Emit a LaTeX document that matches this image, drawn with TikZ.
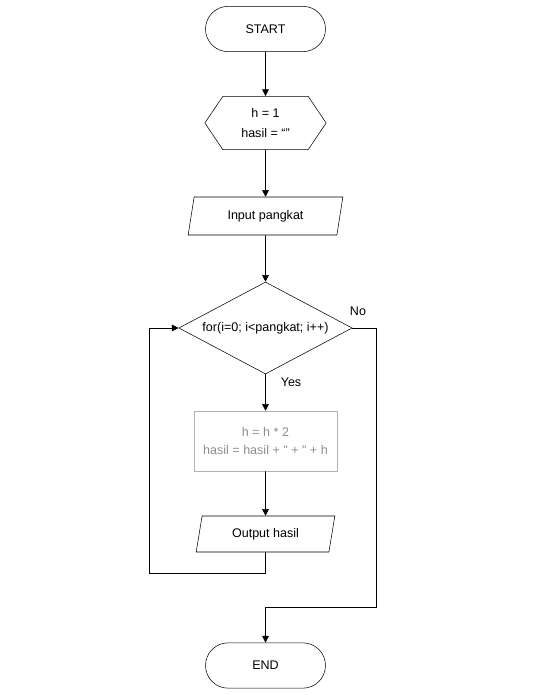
\documentclass[tikz,border=0pt]{standalone}
\usepackage{fontspec}
\setmainfont{Liberation Sans}
\usetikzlibrary{shapes.geometric, shapes.misc, shapes.symbols, arrows.meta}

\tikzset{
  term/.style={rounded rectangle, draw, minimum width=90pt, minimum height=34pt, inner sep=0pt},
  prep/.style={signal, signal to=west and east, signal pointer angle=112, draw, minimum width=91pt, minimum height=40pt, inner sep=0pt, align=center, font=\fontsize{9.4}{14.5}\selectfont},
  io/.style={trapezium, trapezium left angle=63, trapezium right angle=117, trapezium stretches body, draw, inner sep=0pt},
  decide/.style={diamond, aspect=1.88, draw, minimum width=130pt, minimum height=69pt, inner sep=0pt},
  proc/.style={rectangle, draw=black!30, text=black!45, minimum width=107pt, minimum height=45pt, align=center, font=\fontsize{9.4}{13}\selectfont},
  flow/.style={-{Triangle[length=5pt,width=5pt]}},
}

\begin{document}
\begin{tikzpicture}[x=0.75pt, y=-0.75pt, font=\fontsize{9.4}{13.5}\selectfont]
\useasboundingbox (0,0) rectangle (557,695);
\node[term] (start) at (265.5,29) {START};
\node[prep] (init) at (265.5,123) {h = 1\\hasil = “”};
\node[io, minimum width=116pt, minimum height=28.5pt] (input) at (265.5,216) {Input pangkat};
\node[decide] (loop) at (265.5,328) {for(i=0; i<pangkat; i++)};
\node[proc] (body) at (265.5,441) {h = h * 2\\hasil = hasil + \textquotedbl{} + \textquotedbl{} + h};
\node[io, minimum width=104pt, minimum height=27pt] (output) at (265.5,534) {Output hasil};
\node[term] (stop) at (265.5,665.5) {END};
\node at (358,311) {No};
\node at (291,382) {Yes};
\coordinate (back) at (149,573);
\coordinate (exit) at (376,607);
\draw[flow] (start) -- (init);
\draw[flow] (init) -- (input);
\draw[flow] (input) -- (loop);
\draw[flow] (loop) -- (body);
\draw[flow] (body) -- (output);
\draw[flow] (output.south) |- (back) |- (loop.west);
\draw[flow] (loop.east) -| (exit) -| (stop.north);
\end{tikzpicture}
\end{document}
